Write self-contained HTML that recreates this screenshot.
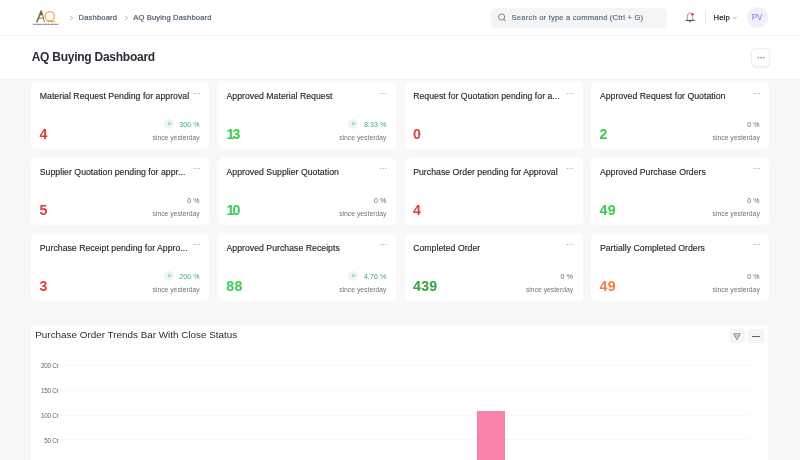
<!DOCTYPE html>
<html><head><meta charset="utf-8"><title>AQ Buying Dashboard</title>
<style>
*{box-sizing:border-box;margin:0;padding:0}
html,body{width:800px;height:460px;overflow:hidden}
body{font-family:"Liberation Sans",sans-serif;background:#f8f8f8;position:relative;color:#1f272e;filter:blur(0.4px)}
.abs{position:absolute}
#nav{position:absolute;left:0;top:0;width:800px;height:36px;background:#fff;border-bottom:1px solid #eef0f2;box-shadow:0 1px 2px rgba(0,0,0,0.015)}
#head{position:absolute;left:0;top:36px;width:800px;height:44px;background:#fff;border-bottom:1px solid #f0f0f0}
.crumb{position:absolute;top:12.6px;font-size:7.6px;letter-spacing:0.15px;color:#4c5a67;-webkit-text-stroke:0.2px #4c5a67;line-height:10px;white-space:nowrap}
#search{position:absolute;left:491px;top:7.6px;width:175.7px;height:20.6px;border-radius:4.5px;background:#f4f5f6}
#search span{position:absolute;left:20.6px;top:5.9px;font-size:7.6px;letter-spacing:0.2px;line-height:10px;color:#5a6773;-webkit-text-stroke:0.15px #5a6773;white-space:nowrap}
#title{position:absolute;left:31.7px;top:13px;font-size:12px;letter-spacing:-0.25px;font-weight:bold;color:#272d34;line-height:16px;white-space:nowrap}
.card{position:absolute;width:178px;height:67px;background:#fff;border-radius:5px}
.ct{position:absolute;left:8.7px;top:8.2px;font-size:8.7px;letter-spacing:0.03px;line-height:12px;color:#1f272e;-webkit-text-stroke:0.15px #1f272e;white-space:nowrap}
.dots{position:absolute;right:8.6px;top:9.4px;fill:#8d99a6}
.num{position:absolute;left:8.4px;top:43.2px;font-size:14.2px;line-height:18px;font-weight:bold;letter-spacing:0.35px}
.pct{position:absolute;right:9.5px;top:37.8px;font-size:7.05px;letter-spacing:0.08px;line-height:10px;color:#5f6b76;white-space:nowrap}
.pct.up{color:#3bab73}
.pct .arr{position:absolute;left:-15.4px;top:-0.7px}
.since{position:absolute;right:9.4px;top:50.7px;font-size:6.8px;line-height:10px;color:#6c7680;white-space:nowrap}
#chart{position:absolute;left:30.9px;top:324.5px;width:737.5px;height:140px;background:#fff;border-radius:5px 5px 0 0}
#chart .t{position:absolute;left:4.4px;top:3.4px;font-size:9.9px;line-height:13px;color:#1f272e;white-space:nowrap}
.yl{position:absolute;left:0;width:27.5px;text-align:right;font-size:6.4px;letter-spacing:-0.3px;line-height:8px;color:#5d636b;white-space:nowrap}
.gl{position:absolute;left:30px;width:689.5px;height:1px;background:#f8f8f8}
.btn{position:absolute;background:#f4f5f6;border-radius:3.5px;height:14px;top:4.5px;width:15.8px}
</style></head><body>
<div id="nav">
  <svg class="abs" style="left:28px;top:5px" width="36" height="25" viewBox="0 0 36 25">
    <path d="M8.7 17.4 L13.3 5.9" fill="none" stroke="#6b7544" stroke-width="1.55"/>
    <path d="M13.5 5.6 L16.4 17.2" fill="none" stroke="#6b7544" stroke-width="0.9"/>
    <path d="M13.5 5.2 L11.6 10.3 H14.7 Z" fill="#65703f"/>
    <path d="M10.6 13.2 H15.4" stroke="#6b7544" stroke-width="0.9"/>
    <ellipse cx="21.7" cy="11.3" rx="4.7" ry="4.6" fill="none" stroke="#f2a043" stroke-width="1.3"/>
    <path d="M19.4 16.6 H27.3" stroke="#f2a043" stroke-width="1.1"/>
    <path d="M5 19.3 H30.4" stroke="#3a3450" stroke-width="0.9" stroke-dasharray="1.8 0.35 1.2 0.3" opacity="0.85"/>
  </svg>
  <svg class="abs" style="left:69px;top:14.6px" width="5" height="6" viewBox="0 0 5 6"><path d="M1 0.8 L3.6 3 L1 5.2" fill="none" stroke="#98a1a9" stroke-width="0.8"/></svg>
  <div class="crumb" style="left:78.6px">Dashboard</div>
  <svg class="abs" style="left:123.5px;top:14.6px" width="5" height="6" viewBox="0 0 5 6"><path d="M1 0.8 L3.6 3 L1 5.2" fill="none" stroke="#98a1a9" stroke-width="0.8"/></svg>
  <div class="crumb" style="left:133.2px">AQ Buying Dashboard</div>
  <div id="search">
    <svg class="abs" style="left:7.3px;top:5.9px" width="9" height="9" viewBox="0 0 9 9"><circle cx="3.6" cy="4" r="3.1" fill="none" stroke="#5a6773" stroke-width="0.8"/><path d="M5.9 6.3 L8 8.3" stroke="#5a6773" stroke-width="0.8"/></svg>
    <span>Search or type a command (Ctrl + G)</span>
  </div>
  <svg class="abs" style="left:684px;top:11px" width="12" height="13" viewBox="0 0 12 13">
    <path d="M3 9.2 C3.3 8 3.3 7 3.4 5.4 C3.5 3.3 4.6 2 6 2 C7.4 2 8.5 3.3 8.6 5.4 C8.7 7 8.7 8 9 9.2" fill="none" stroke="#7a8590" stroke-width="0.85" stroke-linejoin="round"/>
    <path d="M1.7 9.4 H10.7" stroke="#39414a" stroke-width="1"/>
    <path d="M4.9 10.5 Q6 11.7 7.1 10.5" fill="none" stroke="#4c5a67" stroke-width="0.9"/>
    <ellipse cx="8.5" cy="3.2" rx="1.5" ry="1.2" fill="#f5484f"/>
  </svg>
  <div class="abs" style="left:705px;top:10px;width:1px;height:14.5px;background:#eaeaee"></div>
  <div class="crumb" style="left:713.6px;color:#2b3138;-webkit-text-stroke:0.25px #2b3138">Help</div>
  <svg class="abs" style="left:731.6px;top:16.4px" width="6" height="4" viewBox="0 0 6 4"><path d="M0.9 0.9 L2.8 2.7 L4.7 0.9" fill="none" stroke="#8a949e" stroke-width="0.65"/></svg>
  <div class="abs" style="left:746.6px;top:7.3px;width:21px;height:21px;border-radius:50%;background:#efeffd"></div>
  <div class="abs" style="left:746.6px;top:12.6px;width:21px;text-align:center;font-size:8.2px;line-height:10px;color:#7a77ec">PV</div>
</div>
<div id="head">
  <div id="title">AQ Buying Dashboard</div>
  <div class="abs" style="left:751.1px;top:11.8px;width:18.9px;height:19.6px;border:1px solid #efefef;border-radius:5px;background:#fff;box-shadow:0 0.5px 1.5px rgba(0,0,0,0.07)"></div>
  <svg class="abs" style="left:756.5px;top:20.3px;fill:#7c8792" width="8" height="3" viewBox="0 0 8 3"><circle cx="1.3" cy="1.5" r="0.85"/><circle cx="4" cy="1.5" r="0.85"/><circle cx="6.7" cy="1.5" r="0.85"/></svg>
</div>
<div class="card" style="left:31.1px;top:82.2px"><div class="ct">Material Request Pending for approval</div><svg class="dots" width="8" height="3" viewBox="0 0 8 3"><circle cx="1.3" cy="1.5" r="0.6"/><circle cx="4" cy="1.5" r="0.6"/><circle cx="6.7" cy="1.5" r="0.6"/></svg><div class="num" style="color:#e23b3b">4</div><div class="pct up"><svg class="arr" width="10" height="10" viewBox="0 0 10 10"><circle cx="5" cy="5" r="5" fill="#eaf7ef"/><path d="M3.9 6.1 L6.1 3.9 M4.5 3.8 H6.2 V5.5" stroke="#45b27c" stroke-width="0.6" fill="none"/></svg>300 %</div><div class="since">since yesterday</div></div>
<div class="card" style="left:217.8px;top:82.2px"><div class="ct">Approved Material Request</div><svg class="dots" width="8" height="3" viewBox="0 0 8 3"><circle cx="1.3" cy="1.5" r="0.6"/><circle cx="4" cy="1.5" r="0.6"/><circle cx="6.7" cy="1.5" r="0.6"/></svg><div class="num" style="color:#3bcc50"><span style="letter-spacing:-1.7px;margin-left:0.2px">1</span>3</div><div class="pct up"><svg class="arr" width="10" height="10" viewBox="0 0 10 10"><circle cx="5" cy="5" r="5" fill="#eaf7ef"/><path d="M3.9 6.1 L6.1 3.9 M4.5 3.8 H6.2 V5.5" stroke="#45b27c" stroke-width="0.6" fill="none"/></svg>8.33 %</div><div class="since">since yesterday</div></div>
<div class="card" style="left:404.5px;top:82.2px"><div class="ct">Request for Quotation pending for a...</div><svg class="dots" width="8" height="3" viewBox="0 0 8 3"><circle cx="1.3" cy="1.5" r="0.6"/><circle cx="4" cy="1.5" r="0.6"/><circle cx="6.7" cy="1.5" r="0.6"/></svg><div class="num" style="color:#e23b3b">0</div></div>
<div class="card" style="left:591.2px;top:82.2px"><div class="ct">Approved Request for Quotation</div><svg class="dots" width="8" height="3" viewBox="0 0 8 3"><circle cx="1.3" cy="1.5" r="0.6"/><circle cx="4" cy="1.5" r="0.6"/><circle cx="6.7" cy="1.5" r="0.6"/></svg><div class="num" style="color:#3bcc50">2</div><div class="pct">0 %</div><div class="since">since yesterday</div></div>
<div class="card" style="left:31.1px;top:158px"><div class="ct">Supplier Quotation pending for appr...</div><svg class="dots" width="8" height="3" viewBox="0 0 8 3"><circle cx="1.3" cy="1.5" r="0.6"/><circle cx="4" cy="1.5" r="0.6"/><circle cx="6.7" cy="1.5" r="0.6"/></svg><div class="num" style="color:#e23b3b">5</div><div class="pct">0 %</div><div class="since">since yesterday</div></div>
<div class="card" style="left:217.8px;top:158px"><div class="ct">Approved Supplier Quotation</div><svg class="dots" width="8" height="3" viewBox="0 0 8 3"><circle cx="1.3" cy="1.5" r="0.6"/><circle cx="4" cy="1.5" r="0.6"/><circle cx="6.7" cy="1.5" r="0.6"/></svg><div class="num" style="color:#3bcc50"><span style="letter-spacing:-1.7px;margin-left:0.2px">1</span>0</div><div class="pct">0 %</div><div class="since">since yesterday</div></div>
<div class="card" style="left:404.5px;top:158px"><div class="ct">Purchase Order pending for Approval</div><svg class="dots" width="8" height="3" viewBox="0 0 8 3"><circle cx="1.3" cy="1.5" r="0.6"/><circle cx="4" cy="1.5" r="0.6"/><circle cx="6.7" cy="1.5" r="0.6"/></svg><div class="num" style="color:#e23b3b">4</div></div>
<div class="card" style="left:591.2px;top:158px"><div class="ct">Approved Purchase Orders</div><svg class="dots" width="8" height="3" viewBox="0 0 8 3"><circle cx="1.3" cy="1.5" r="0.6"/><circle cx="4" cy="1.5" r="0.6"/><circle cx="6.7" cy="1.5" r="0.6"/></svg><div class="num" style="color:#3bcc50">49</div><div class="pct">0 %</div><div class="since">since yesterday</div></div>
<div class="card" style="left:31.1px;top:234px"><div class="ct">Purchase Receipt pending for Appro...</div><svg class="dots" width="8" height="3" viewBox="0 0 8 3"><circle cx="1.3" cy="1.5" r="0.6"/><circle cx="4" cy="1.5" r="0.6"/><circle cx="6.7" cy="1.5" r="0.6"/></svg><div class="num" style="color:#e23b3b">3</div><div class="pct up"><svg class="arr" width="10" height="10" viewBox="0 0 10 10"><circle cx="5" cy="5" r="5" fill="#eaf7ef"/><path d="M3.9 6.1 L6.1 3.9 M4.5 3.8 H6.2 V5.5" stroke="#45b27c" stroke-width="0.6" fill="none"/></svg>200 %</div><div class="since">since yesterday</div></div>
<div class="card" style="left:217.8px;top:234px"><div class="ct">Approved Purchase Receipts</div><svg class="dots" width="8" height="3" viewBox="0 0 8 3"><circle cx="1.3" cy="1.5" r="0.6"/><circle cx="4" cy="1.5" r="0.6"/><circle cx="6.7" cy="1.5" r="0.6"/></svg><div class="num" style="color:#3bcc50">88</div><div class="pct up"><svg class="arr" width="10" height="10" viewBox="0 0 10 10"><circle cx="5" cy="5" r="5" fill="#eaf7ef"/><path d="M3.9 6.1 L6.1 3.9 M4.5 3.8 H6.2 V5.5" stroke="#45b27c" stroke-width="0.6" fill="none"/></svg>4.76 %</div><div class="since">since yesterday</div></div>
<div class="card" style="left:404.5px;top:234px"><div class="ct">Completed Order</div><svg class="dots" width="8" height="3" viewBox="0 0 8 3"><circle cx="1.3" cy="1.5" r="0.6"/><circle cx="4" cy="1.5" r="0.6"/><circle cx="6.7" cy="1.5" r="0.6"/></svg><div class="num" style="color:#38a03c">439</div><div class="pct">0 %</div><div class="since">since yesterday</div></div>
<div class="card" style="left:591.2px;top:234px"><div class="ct">Partially Completed Orders</div><svg class="dots" width="8" height="3" viewBox="0 0 8 3"><circle cx="1.3" cy="1.5" r="0.6"/><circle cx="4" cy="1.5" r="0.6"/><circle cx="6.7" cy="1.5" r="0.6"/></svg><div class="num" style="color:#f47d42">49</div><div class="pct">0 %</div><div class="since">since yesterday</div></div>
<div id="chart">
  <div class="t">Purchase Order Trends Bar With Close Status</div>
  <div class="btn" style="left:698.2px"></div>
  <svg class="abs" style="left:702px;top:8px" width="8" height="8" viewBox="0 0 8 8"><path d="M0.8 0.8 H7.2 L4 6.8 Z" fill="none" stroke="#4c5a67" stroke-width="0.7" stroke-linejoin="round"/><path d="M2.1 3 H5.9" stroke="#4c5a67" stroke-width="0.6"/></svg>
  <div class="btn" style="left:717.3px"></div>
  <div class="abs" style="left:721.5px;top:11.2px;width:7.5px;height:1px;background:#5a6773"></div>
  <div class="gl" style="top:40.3px"></div><div class="yl" style="top:37.5px">200 Cr</div>
  <div class="gl" style="top:65.2px"></div><div class="yl" style="top:62.4px">150 Cr</div>
  <div class="gl" style="top:90.0px"></div><div class="yl" style="top:87.2px">100 Cr</div>
  <div class="gl" style="top:114.8px"></div><div class="yl" style="top:112.0px">50 Cr</div>
  <div class="abs" style="left:446.1px;top:86.4px;width:28.2px;height:60px;background:#f783ac"></div>
</div>
</body></html>
